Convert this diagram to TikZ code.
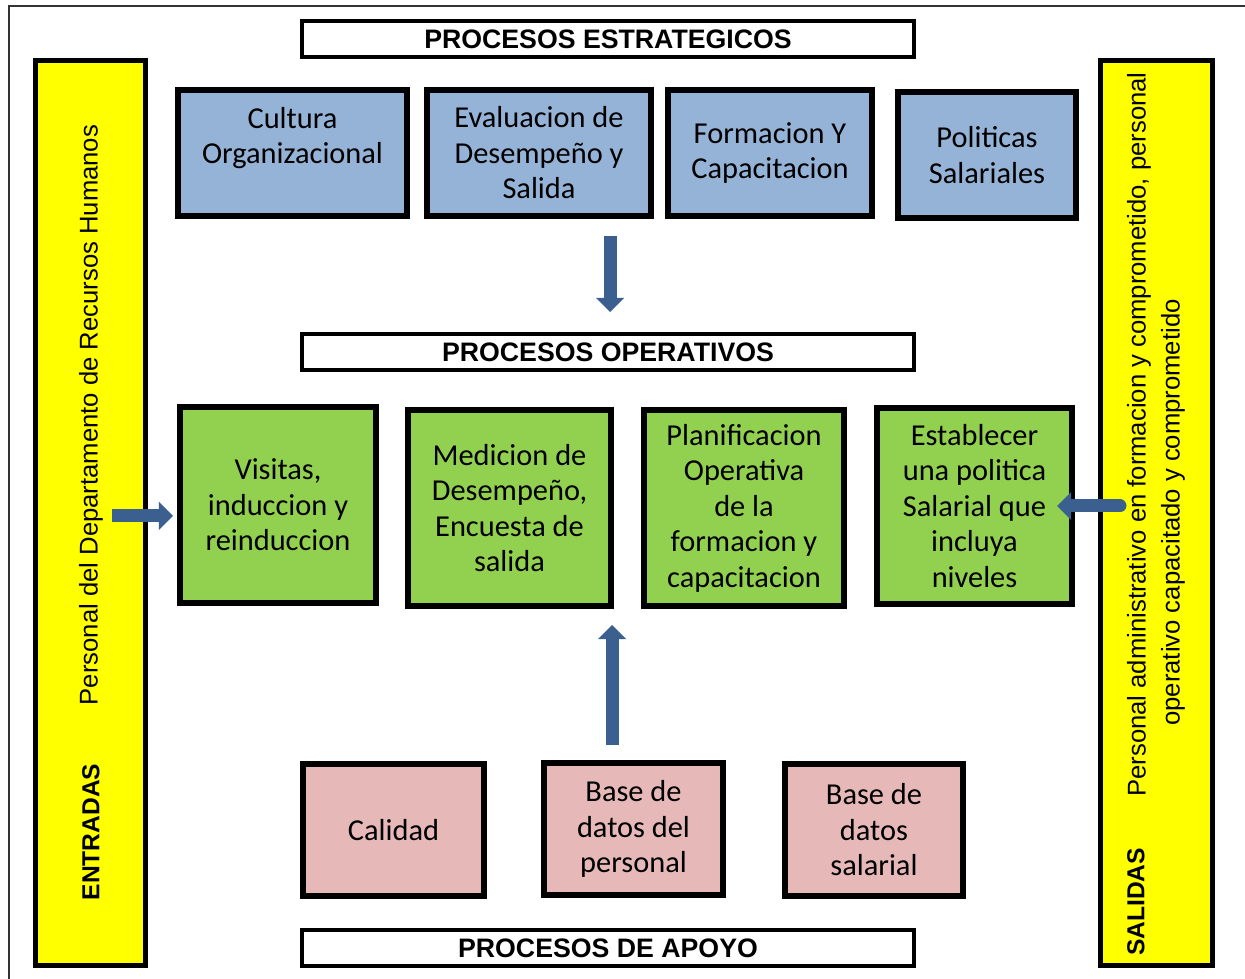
\documentclass[tikz,border=0pt]{standalone}
\usepackage{fontspec}
\setmainfont{Carlito}
\newfontfamily\arialf{Liberation Sans}
\usepackage{tikz}
\usetikzlibrary{arrows.meta}
\definecolor{azulc}{HTML}{95B3D7}
\definecolor{verdec}{HTML}{92D050}
\definecolor{rosac}{HTML}{E6B9B8}
\definecolor{amac}{HTML}{FFFF00}
\definecolor{flechac}{HTML}{3B5F8E}
\tikzset{
  bx/.style={draw=black,line width=3.6pt,align=center,inner sep=2pt,font=\fontsize{17.3}{20.2}\selectfont},
  estr/.style={bx,fill=azulc,minimum height=2.53cm},
  oper/.style={bx,fill=verdec,minimum height=3.93cm},
  apo/.style={bx,fill=rosac,minimum height=2.65cm},
  hdr/.style={draw=black,line width=2pt,fill=white,minimum width=12.25cm,minimum height=0.72cm,inner sep=0pt,font=\arialf\bfseries\fontsize{15.2}{18}\selectfont},
  barra/.style={draw=black,line width=2.8pt,fill=amac,minimum height=18.1cm},
  vt/.style={rotate=90,inner sep=0pt,font=\arialf\fontsize{14.6}{19.3}\selectfont},
  vtb/.style={vt,font=\arialf\bfseries\fontsize{14}{17}\selectfont},
  flc/.style={draw=flechac,line width=7.4pt,-{Triangle[width=16pt,length=8pt,line width=0pt]}}
}

\begin{document}
\begin{tikzpicture}[x=0.02cm,y=-0.02cm]
\useasboundingbox (0,0) rectangle (1245,979);
\draw[black!80,line width=1.3pt] (9,979) -- (9,6) -- (1245,6);

% entradas / salidas
\node[barra,minimum width=2.2cm] (ent) at (90.5,513) {};
\node[barra,minimum width=2.24cm] (sal) at (1156.5,513) {};
\node[vtb] (entt) at (91,832) {ENTRADAS};
\node[vt] (entp) at (91,415) {Personal del Departamento de Recursos Humanos};
\node[vtb] (salt) at (1136,902) {SALIDAS};
\node[vt,anchor=west,align=left] (salp) at (1156,797) {Personal administrativo en formacion y comprometido, personal\\\hspace*{1.42cm}operativo capacitado y comprometido};

% cabeceras
\node[hdr] (pe) at (608,39) {PROCESOS ESTRATEGICOS};
\node[hdr] (po) at (608,352) {PROCESOS OPERATIVOS};
\node[hdr] (pa) at (608,948) {PROCESOS DE APOYO};

% estrategicos
\node[estr,minimum width=4.57cm] (cult) at (292.5,153) {Cultura\\Organizacional\\\mbox{}};
\node[estr,minimum width=4.47cm] (eval) at (539,153) {Evaluacion de\\Desempeño y\\Salida};
\node[estr,minimum width=4.07cm] (form) at (770,153) {Formacion Y\\Capacitacion};
\node[estr,minimum width=3.55cm] (poli) at (987,155) {Politicas\\Salariales};

% operativos
\node[oper,minimum width=3.91cm] (visi) at (278,505) {Visitas,\\induccion y\\reinduccion};
\node[oper,minimum width=4.05cm] (medi) at (509.5,508) {Medicion de\\Desempeño,\\Encuesta de\\salida};
\node[oper,minimum width=3.99cm] (plan) at (744,508) {Planificacion\\Operativa\\de la\\formacion y\\capacitacion};
\node[oper,minimum width=3.89cm] (esta) at (974.5,506) {Establecer\\una politica\\Salarial que\\incluya\\niveles};

% apoyo
\node[apo,minimum width=3.61cm] (cali) at (393.5,830) {Calidad};
\node[apo,minimum width=3.57cm] (bdp) at (633.5,829) {Base de\\datos del\\personal};
\node[apo,minimum width=3.55cm] (bds) at (874,830) {Base de\\datos\\salarial};

% flechas
\coordinate (a1) at (610,236);
\coordinate (a2) at (610,312);
\coordinate (b1) at (112,516);
\coordinate (b2) at (173,516);
\coordinate (c1) at (1120,506);
\coordinate (c2) at (1057,506);
\coordinate (d1) at (612,745);
\coordinate (d2) at (612,625);
\draw[flc] (a1) -- (a2);
\draw[flc] (b1) -- (b2);
\draw[flc,line cap=round] (c1) -- (c2);
\draw[flc] (d1) -- (d2);
\end{tikzpicture}
\end{document}
